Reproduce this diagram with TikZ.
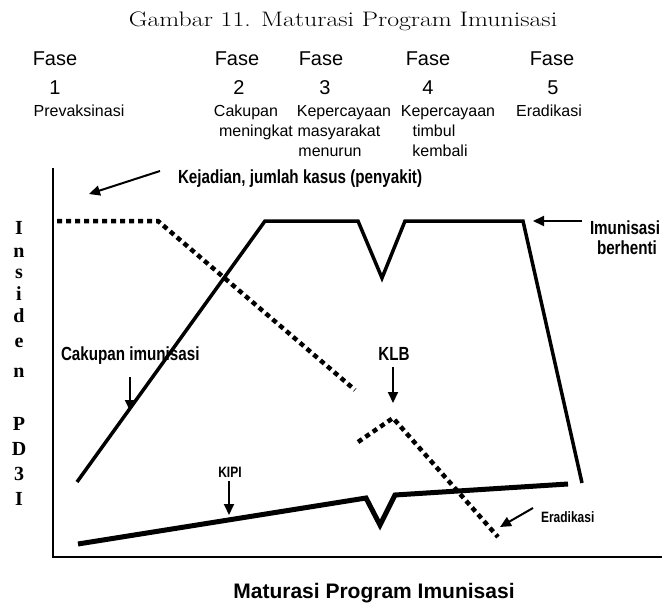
\documentclass[tikz,border=0pt]{standalone}
\usepackage{fontspec}
\usetikzlibrary{arrows.meta}
\newfontfamily\arialfont{Liberation Sans}
\newfontfamily\timesfont{Liberation Serif}
% narrow bold labels
\newcommand\cond[1]{\scalebox{0.8}[1]{#1}}
\newcommand\widetitle[1]{\scalebox{1.23}[1]{#1}}

\begin{document}
\begin{tikzpicture}[x=1pt,y=-1pt,
  txt/.style={anchor=base,inner sep=0pt,outer sep=0pt},
  fase/.style={txt,font=\arialfont\fontsize{20}{24}\selectfont},
  sub/.style={txt,font=\arialfont\fontsize{16}{19}\selectfont},
  lbl/.style={txt,font=\arialfont\bfseries\fontsize{19}{22}\selectfont},
  smalllbl/.style={txt,font=\arialfont\bfseries\fontsize{15}{18}\selectfont},
  yletter/.style={txt,font=\timesfont\bfseries\fontsize{20}{24}\selectfont},
  axis/.style={line width=2pt},
  coverage/.style={line width=3.5pt,line join=miter},
  kipi/.style={line width=5pt,line join=miter},
  incidence/.style={line width=4.5pt,dash pattern=on 5pt off 4pt},
  pointer/.style={line width=2pt,-{Triangle[length=11pt,width=10pt]}}
]
\useasboundingbox (0,0) rectangle (662,605);

% title
\node[txt,font=\fontsize{21}{25}\selectfont] (title) at (343,27) {\widetitle{Gambar 11. Maturasi Program Imunisasi}};

% phase headers
\node[fase] (f1) at (55,65) {Fase};
\node[fase] (f2) at (237,65) {Fase};
\node[fase] (f3) at (321,65) {Fase};
\node[fase] (f4) at (428,65) {Fase};
\node[fase] (f5) at (552,65) {Fase};
\node[fase] (n1) at (55,94) {1};
\node[fase] (n2) at (239,94) {2};
\node[fase] (n3) at (325,94) {3};
\node[fase] (n4) at (428,94) {4};
\node[fase] (n5) at (553,94) {5};

\node[sub] (d1a) at (79,116) {Prevaksinasi};
\node[sub] (d2a) at (246,116) {Cakupan};
\node[sub] (d2b) at (256,136) {meningkat};
\node[sub] (d3a) at (344,116) {Kepercayaan};
\node[sub] (d3b) at (339,136) {masyarakat};
\node[sub] (d3c) at (330,156) {menurun};
\node[sub] (d4a) at (448,116) {Kepercayaan};
\node[sub] (d4b) at (434,136) {timbul};
\node[sub] (d4c) at (440,156) {kembali};
\node[sub] (d5a) at (549,116) {Eradikasi};

% vertical axis label
\foreach \ch/\yy [count=\i] in {I/234,n/257,s/278,i/300,d/322,e/347,n/377,P/430,D/455,3/480,I/505}
  \node[yletter] (ylab\i) at (19,\yy) {\ch};

% axes
\coordinate (origin) at (53,557);
\coordinate (ytop) at (53,168);
\coordinate (xend) at (662,557);
\draw[axis] (ytop) -- (origin) -- (xend);

% immunisation coverage
\coordinate (c0) at (77,482);
\coordinate (c1) at (265,221);
\coordinate (c2) at (358,221);
\coordinate (c3) at (382,278);
\coordinate (c4) at (405,221);
\coordinate (c5) at (523,221);
\coordinate (c6) at (582,483);
\draw[coverage] (c0) -- (c1) -- (c2) -- (c3) -- (c4) -- (c5) -- (c6);

% disease incidence
\coordinate (i0) at (57,221);
\coordinate (i1) at (158,221);
\coordinate (i2) at (355,390);
\coordinate (i3) at (358,442);
\coordinate (i4) at (393,418);
\coordinate (i5) at (498,537);
\draw[incidence] (i0) -- (i1) -- (i2);
\draw[incidence] (i3) -- (i4) -- (i5);

% adverse events following immunisation
\coordinate (k0) at (78,544);
\coordinate (k1) at (366,498);
\coordinate (k2) at (380,525);
\coordinate (k3) at (395,495);
\coordinate (k4) at (568,484);
\draw[kipi] (k0) -- (k1) -- (k2) -- (k3) -- (k4);

% labels and pointers
\node[lbl,anchor=base west] (kej) at (178,183) {\cond{Kejadian, jumlah kasus (penyakit)}};
\coordinate (kejA) at (160,171);
\coordinate (kejB) at (89,194);
\draw[pointer] (kejA) -- (kejB);

\node[lbl,anchor=base west] (stop1) at (590,234) {\cond{Imunisasi}};
\node[lbl,anchor=base west] (stop2) at (597,254) {\cond{berhenti}};
\coordinate (stopA) at (582,221);
\coordinate (stopB) at (533,221);
\draw[pointer] (stopA) -- (stopB);

\node[lbl,anchor=base west] (cak) at (61,360) {\cond{Cakupan imunisasi}};
\coordinate (cakA) at (130,377);
\coordinate (cakB) at (130,411);
\draw[pointer] (cakA) -- (cakB);

\node[lbl] (klb) at (394,360) {\cond{KLB}};
\coordinate (klbA) at (393,367);
\coordinate (klbB) at (393,403);
\draw[pointer] (klbA) -- (klbB);

\node[smalllbl] (kipiL) at (230,477) {\cond{KIPI}};
\coordinate (kipiA) at (229,481);
\coordinate (kipiB) at (229,515);
\draw[pointer] (kipiA) -- (kipiB);

\node[smalllbl,anchor=base west] (erad) at (541,522) {\cond{Eradikasi}};
\coordinate (eradA) at (533,508);
\coordinate (eradB) at (500,527);
\draw[pointer] (eradA) -- (eradB);

% horizontal axis label
\node[txt,font=\arialfont\bfseries\fontsize{21}{25}\selectfont] (xlab) at (374,598) {Maturasi Program Imunisasi};
\end{tikzpicture}
\end{document}
